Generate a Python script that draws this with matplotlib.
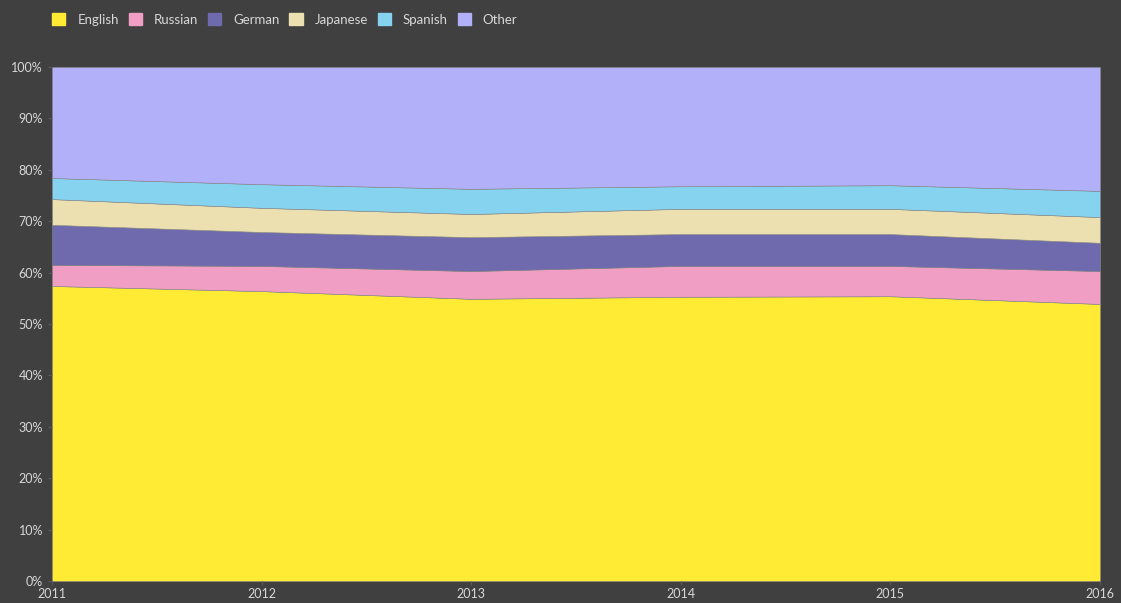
import matplotlib
matplotlib.use("Agg")
import matplotlib.pyplot as plt
from matplotlib.patches import Patch

# share of content by language (%)
years = [2011, 2012, 2013, 2014, 2015, 2016]
english = [57.4, 56.4, 54.9, 55.3, 55.4, 53.9]
russian = [4.1, 4.9, 5.4, 6.0, 5.9, 6.4]
german = [7.8, 6.6, 6.6, 6.2, 6.2, 5.5]
japanese = [5.0, 4.7, 4.5, 4.9, 4.9, 5.0]
spanish = [4.1, 4.6, 4.9, 4.4, 4.6, 5.1]
other = [100 - sum(v) for v in zip(english, russian, german, japanese, spanish)]

labels = ["English", "Russian", "German", "Japanese", "Spanish", "Other"]
colors = ["#ffeb33", "#f09ec4", "#6e6aad", "#ede0b0", "#86d3f0", "#b3b0fa"]
bg = "#404040"
txt = "#d8d8d8"

plt.rcParams["font.family"] = ["Lato", "DejaVu Sans"]

fig = plt.figure(figsize=(11.21, 6.03), dpi=100, facecolor=bg)
ax = fig.add_axes([52 / 1121, 1 - 581 / 603, 1048 / 1121, 514 / 603])
ax.set_facecolor(bg)

ax.stackplot(years, english, russian, german, japanese, spanish, other,
             colors=colors, edgecolor="#8a8a8a", linewidth=0.4)

ax.set_xlim(2011, 2016)
ax.set_ylim(0, 100)
ax.set_xticks(years)
ax.set_yticks(range(0, 101, 10))
ax.set_yticklabels([f"{v}%" for v in range(0, 101, 10)])
ax.tick_params(colors=txt, labelsize=9, length=3, color="#5a5a5a")
ax.tick_params(axis="x", pad=2)
for s in ax.spines.values():
    s.set_visible(False)

handles = [Patch(facecolor=c, edgecolor=c) for c in colors]
fig.legend(handles, labels, loc="upper left", bbox_to_anchor=(0.036, 0.998),
           ncol=6, frameon=False, fontsize=9.5, labelcolor=txt,
           handlelength=1.0, handleheight=1.0, handletextpad=0.9,
           columnspacing=0.75)

fig.savefig("out.png", dpi=100, facecolor=bg)
